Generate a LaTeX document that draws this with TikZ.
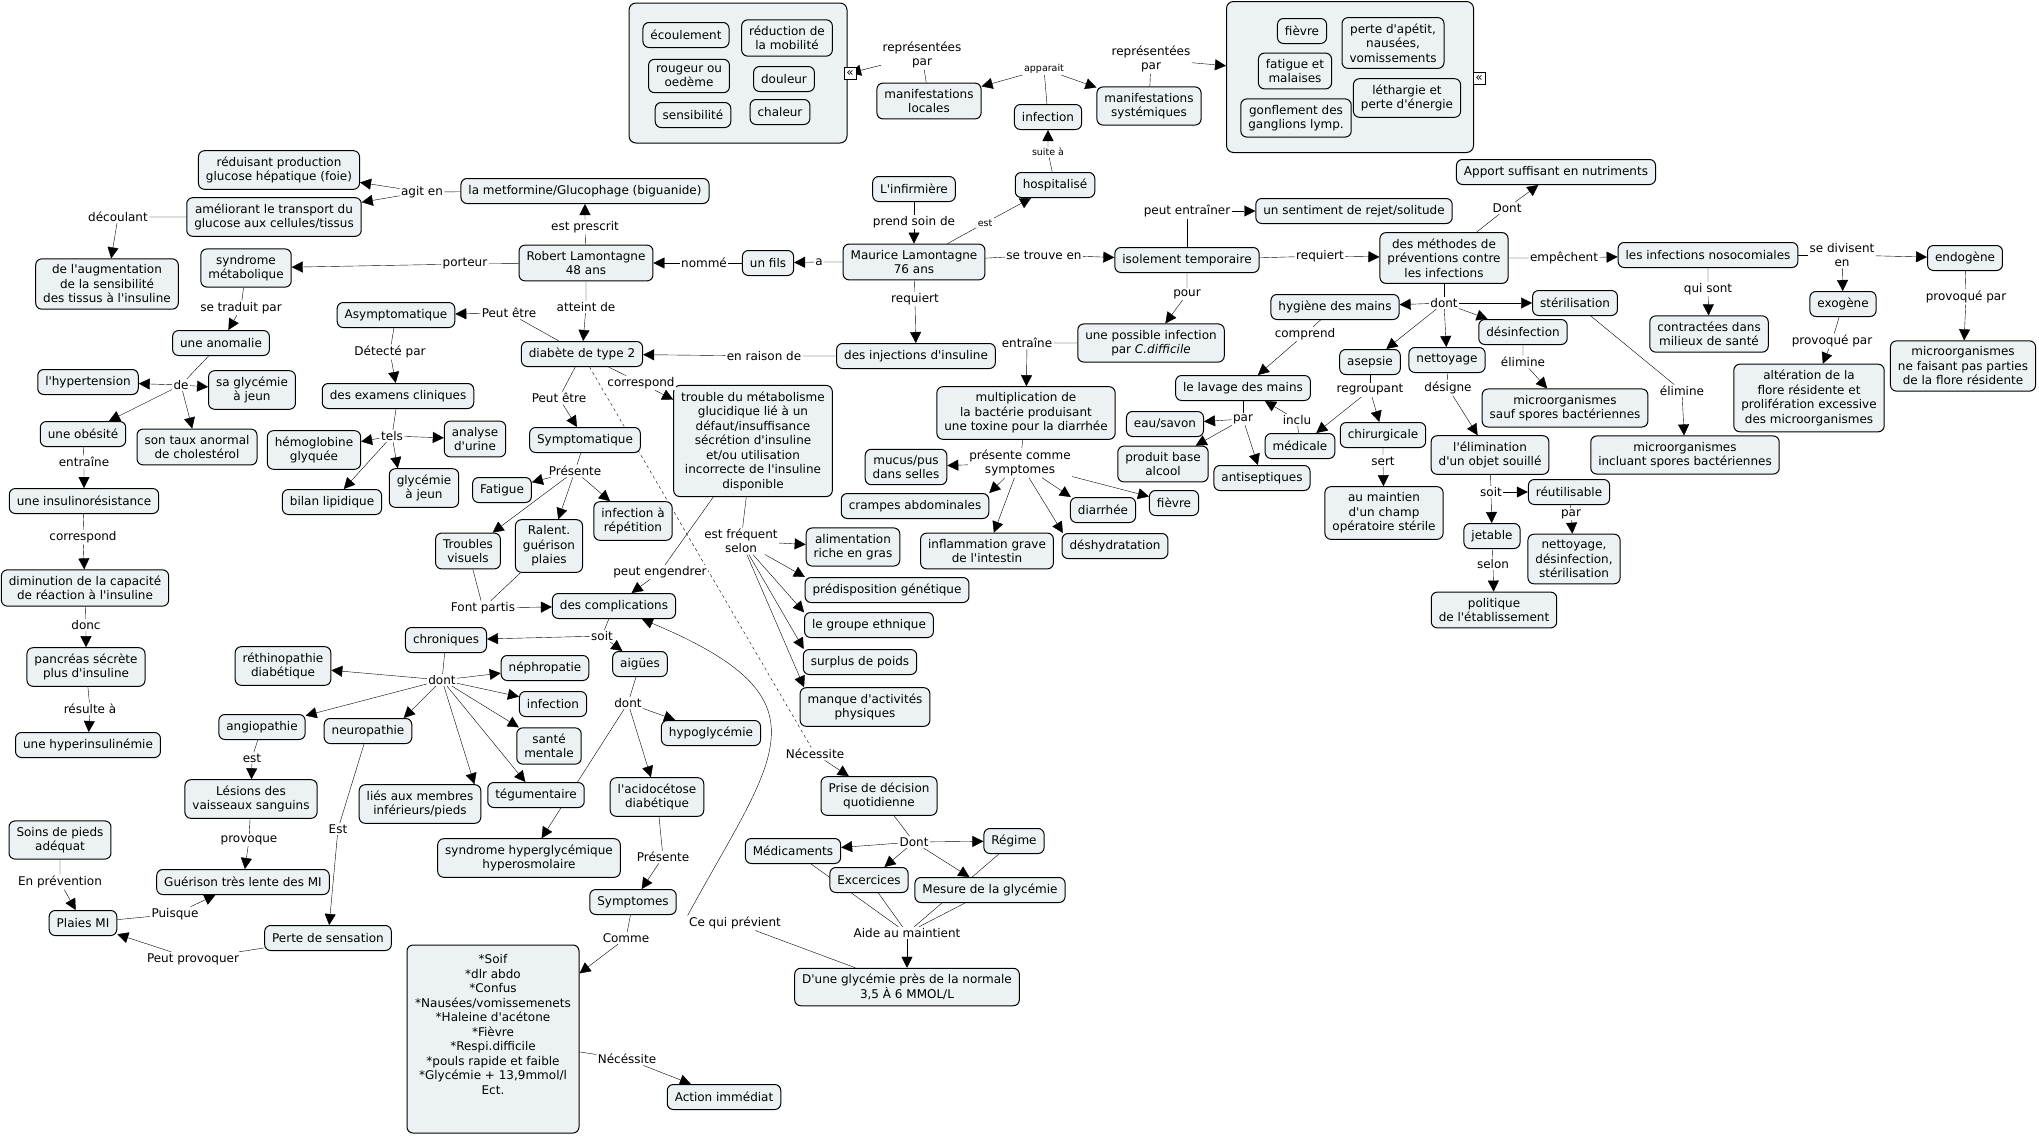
\documentclass[tikz,border=0pt]{standalone}
\usepackage{fontspec}
\setmainfont{DejaVu Sans}[Ligatures=TeXOff]
\usetikzlibrary{arrows.meta}
\definecolor{cfill}{RGB}{236,242,244}
\pgfdeclarelayer{links}
\pgfsetlayers{links,main}
\tikzstyle{concept}=[draw, rounded corners=6pt, fill=cfill, align=center, inner xsep=7.5pt, inner ysep=6pt, minimum height=25pt]
\tikzstyle{link}=[fill=white, align=center, inner sep=1pt]
\tikzstyle{smalllink}=[link, font=\fontsize{9.5}{11}\selectfont]
\tikzstyle{group}=[draw, rounded corners=7pt, fill=cfill]
\tikzstyle{expand}=[draw, fill=white, inner sep=0pt, minimum size=12pt, font=\fontsize{12}{12}\selectfont]

\begin{document}
\begin{tikzpicture}[x=1pt,y=-1pt,line width=1pt,>={Triangle[length=11pt,width=11pt]},font=\fontsize{12}{14.5}\selectfont]
\useasboundingbox (0,0) rectangle (2039,1135);

% manifestations (groupes)
\node [group, minimum width=218, minimum height=140] (grpL) at (738,73) {};
\node [concept] (ecoul) at (686,35) {écoulement};
\node [concept] (reduc) at (787,38) {réduction de\\la mobilité};
\node [concept] (rouge) at (689,76) {rougeur ou\\oedème};
\node [concept] (doul) at (784,79) {douleur};
\node [concept] (sensi) at (693,115) {sensibilité};
\node [concept] (chal) at (780,112) {chaleur};
\node [expand] (expL) at (850,73) {«};

\node [group, minimum width=247, minimum height=151] (grpR) at (1350,77) {};
\node [concept] (fiev1) at (1302,31) {fièvre};
\node [concept] (perteapp) at (1393,43) {perte d'apétit,\\nausées,\\vomissements};
\node [concept] (fatig) at (1295,71) {fatigue et\\malaises};
\node [concept] (leth) at (1407,98) {léthargie et\\perte d'énergie};
\node [concept] (gonfl) at (1296,118) {gonflement des\\ganglions lymp.};
\node [expand] (expR) at (1479,78) {«};

% patients
\node [concept] (locales) at (929,101) {manifestations\\locales};
\node [concept] (syst) at (1149,106) {manifestations\\systémiques};
\node [concept] (infec) at (1048,117) {infection};
\node [concept] (hosp) at (1055,185) {hospitalisé};
\node [concept] (infirm) at (914,189) {L'infirmière};
\node [concept] (maurice) at (914,262) {Maurice Lamontagne\\76 ans};
\node [concept] (fils) at (768,263) {un fils};
\node [concept] (robert) at (586,263) {Robert Lamontagne\\48 ans};
\node [concept] (metf) at (585,191) {la metformine/Glucophage (biguanide)};
\node [concept] (reduis) at (279,170) {réduisant production\\glucose hépatique (foie)};
\node [concept] (amel) at (274,217) {améliorant le transport du\\glucose aux cellules/tissus};
\node [concept] (augm) at (107,284) {de l'augmentation\\de la sensibilité\\des tissus à l'insuline};
\node [concept] (synd) at (246,268) {syndrome\\métabolique};
\node [concept] (anom) at (221,343) {une anomalie};
\node [concept] (asym) at (396,315) {Asymptomatique};
\node [concept] (hyper) at (88,382) {l'hypertension};
\node [concept] (glyc1) at (252,390) {sa glycémie\\à jeun};
\node [concept] (obes) at (83,434) {une obésité};
\node [concept] (chol) at (197,447) {son taux anormal\\de cholestérol};
\node [concept] (insres) at (84,501) {une insulinorésistance};
\node [concept] (dimin) at (85,588) {diminution de la capacité\\de réaction à l'insuline};
\node [concept] (pancr) at (86,667) {pancréas sécrète\\plus d'insuline};
\node [concept] (hyperins) at (88,745) {une hyperinsulinémie};
\node [concept] (exam) at (398,396) {des examens cliniques};
\node [concept] (hemo) at (314,450) {hémoglobine\\glyquée};
\node [concept] (urine) at (475,439) {analyse\\d'urine};
\node [concept] (bilan) at (332,502) {bilan lipidique};
\node [concept] (glyc2) at (424,488) {glycémie\\à jeun};

% diabete
\node [concept] (diab) at (582,354) {diabète de type 2};
\node [concept] (inject) at (916,356) {des injections d'insuline};
\node [concept] (sympto) at (585,440) {Symptomatique};
\node [concept] (trouble) at (753,441) {trouble du métabolisme\\glucidique lié à un\\défaut/insuffisance\\sécrétion d'insuline\\et/ou utilisation\\incorrecte de l'insuline\\disponible};
\node [concept] (fatigue) at (502,490) {Fatigue};
\node [concept] (infrep) at (633,521) {infection à\\répétition};
\node [concept] (ralent) at (549,546) {Ralent.\\guérison\\plaies};
\node [concept] (troubv) at (468,551) {Troubles\\visuels};
\node [concept] (alim) at (853,547) {alimentation\\riche en gras};
\node [concept] (predis) at (887,590) {prédisposition génétique};
\node [concept] (ethn) at (869,625) {le groupe ethnique};
\node [concept] (surpl) at (860,662) {surplus de poids};
\node [concept] (manque) at (865,707) {manque d'activités\\physiques};

% complications
\node [concept] (compl) at (614,606) {des complications};
\node [concept] (chron) at (446,640) {chroniques};
\node [concept] (aigu) at (640,664) {aigües};
\node [concept] (nephro) at (545,668) {néphropatie};
\node [concept] (rethi) at (283,666) {réthinopathie\\diabétique};
\node [concept] (infec3) at (553,704) {infection};
\node [concept] (hypog) at (711,733) {hypoglycémie};
\node [concept] (sante) at (549,746) {santé\\mentale};
\node [concept] (angio) at (262,727) {angiopathie};
\node [concept] (neuro) at (368,731) {neuropathie};
\node [concept] (lesion) at (251,799) {Lésions des\\vaisseaux sanguins};
\node [concept] (membres) at (420,804) {liés aux membres\\inférieurs/pieds};
\node [concept] (tegum) at (536,795) {tégumentaire};
\node [concept] (soins) at (60,840) {Soins de pieds\\adéquat};
\node [concept] (hhs) at (529,858) {syndrome hyperglycémique\\hyperosmolaire};
\node [concept] (guer) at (243,882) {Guérison très lente des MI};
\node [concept] (plaies) at (83,923) {Plaies MI};
\node [concept] (sensat) at (328,938) {Perte de sensation};
\node [concept, minimum width=172, minimum height=188] (bigsym) at (493,1039) {*Soif\\*dlr abdo\\*Confus\\*Nausées/vomissemenets\\*Haleine d'acétone\\*Fièvre\\*Respi.difficile\\*pouls rapide et faible\\*Glycémie + 13,9mmol/l\\Ect.\\\mbox{}\\\mbox{}};
\node [concept] (acido) at (657,797) {l'acidocétose\\diabétique};
\node [concept] (symptomes) at (633,902) {Symptomes};
\node [concept] (action) at (724,1097) {Action immédiat};
\node [concept] (prise) at (879,796) {Prise de décision\\quotidienne};
\node [concept] (medic) at (793,851) {Médicaments};
\node [concept] (regime) at (1014,841) {Régime};
\node [concept] (exerc) at (869,880) {Excercices};
\node [concept] (mesure) at (990,890) {Mesure de la glycémie};
\node [concept] (dune) at (907,987) {D'une glycémie près de la normale\\3,5 À 6 MMOL/L};

% isolement et prevention
\node [concept] (apport) at (1556,172) {Apport suffisant en nutriments};
\node [concept] (sentim) at (1354,211) {un sentiment de rejet/solitude};
\node [concept] (isol) at (1187,260) {isolement temporaire};
\node [concept] (methodes) at (1444,258) {des méthodes de\\préventions contre\\les infections};
\node [concept] (possible) at (1151,343) {une possible infection\\par \textit{C.difficile}};
\node [concept] (multip) at (1026,413) {multiplication de\\la bactérie produisant\\une toxine pour la diarrhée};
\node [concept] (mucus) at (906,467) {mucus/pus\\dans selles};
\node [concept] (crampes) at (915,506) {crampes abdominales};
\node [concept] (inflam) at (987,551) {inflammation grave\\de l'intestin};
\node [concept] (diarr) at (1103,510) {diarrhée};
\node [concept] (fiev2) at (1174,503) {fièvre};
\node [concept] (deshy) at (1115,546) {déshydratation};
\node [concept] (hygiene) at (1335,307) {hygiène des mains};
\node [concept] (lavage) at (1243,388) {le lavage des mains};
\node [concept] (eau) at (1165,424) {eau/savon};
\node [concept] (alcool) at (1163,464) {produit base\\alcool};
\node [concept] (antisep) at (1262,478) {antiseptiques};
\node [concept] (asepsie) at (1370,362) {asepsie};
\node [concept] (medicale) at (1300,446) {médicale};
\node [concept] (chirur) at (1383,435) {chirurgicale};
\node [concept] (maintien) at (1384,513) {au maintien\\d'un champ\\opératoire stérile};
\node [concept] (nettoy) at (1447,360) {nettoyage};
\node [concept] (elimin) at (1490,455) {l'élimination\\d'un objet souillé};
\node [concept] (reutil) at (1569,492) {réutilisable};
\node [concept] (jetable) at (1492,536) {jetable};
\node [concept] (nds) at (1574,559) {nettoyage,\\désinfection,\\stérilisation};
\node [concept] (polit) at (1494,610) {politique\\de l'établissement};
\node [concept] (desinf) at (1523,332) {désinfection};
\node [concept] (steril) at (1575,303) {stérilisation};
\node [concept] (saufsp) at (1565,408) {microorganismes\\sauf spores bactériennes};
\node [concept] (inclsp) at (1685,455) {microorganismes\\incluant spores bactériennes};
\node [concept] (nosoc) at (1708,255) {les infections nosocomiales};
\node [concept] (contr) at (1709,334) {contractées dans\\milieux de santé};
\node [concept] (endo) at (1965,258) {endogène};
\node [concept] (exo) at (1843,304) {exogène};
\node [concept] (nefais) at (1963,366) {microorganismes\\ne faisant pas parties\\de la flore résidente};
\node [concept] (alter) at (1809,398) {altération de la\\flore résidente et\\prolifération excessive\\des microorganismes};

% mots de liaison
\node [link] (lrepL) at (922,55) {représentées\\par};
\node [smalllink] (lapp) at (1044,69) {apparait};
\node [link] (lrepR) at (1151,59) {représentées\\par};
\node [smalllink] (lsuite) at (1048,152) {suite à};
\node [smalllink] (lest1) at (985,223) {est};
\node [link] (lsoin) at (914,222) {prend soin de};
\node [link] (la) at (819,262) {a};
\node [link] (lnomme) at (704,263) {nommé};
\node [link] (lpresc) at (585,227) {est prescrit};
\node [link] (lagit) at (422,192) {agit en};
\node [link] (ldecoul) at (118,217) {découlant};
\node [link] (lporteur) at (465,264) {porteur};
\node [link] (ltrad) at (241,308) {se traduit par};
\node [link] (lde) at (181,385) {de};
\node [link] (lentr1) at (84,462) {entraîne};
\node [link] (lcorr1) at (83,537) {correspond};
\node [link] (ldonc) at (86,625) {donc};
\node [link] (lresult) at (90,709) {résulte à};
\node [link] (latteint) at (586,307) {atteint de};
\node [link] (lreq1) at (915,299) {requiert};
\node [link] (lraison) at (764,356) {en raison de};
\node [link] (lpeut1) at (509,313) {Peut être};
\node [link] (ldetect) at (390,352) {Détecté par};
\node [link] (ltels) at (392,436) {tels};
\node [link] (lcorr2) at (641,383) {correspond};
\node [link] (lpeut2) at (559,398) {Peut être};
\node [link] (lpres1) at (575,471) {Présente};
\node [link] (lfont) at (483,608) {Font partis};
\node [link] (lengendr) at (660,572) {peut engendrer};
\node [link] (lfreq) at (741,541) {est fréquent\\selon};
\node [link] (lsoit1) at (602,636) {soit};
\node [link] (ldont3) at (442,680) {dont};
\node [link] (ldont4) at (628,703) {dont};
\node [link] (lnec) at (815,754) {Nécessite};
\node [link] (lest2) at (252,758) {est};
\node [link] (lprov) at (249,840) {provoque};
\node [link] (lEst) at (338,829) {Est};
\node [link] (lprev) at (60,882) {En prévention};
\node [link] (lpuisq) at (175,914) {Puisque};
\node [link] (lpeutprov) at (193,959) {Peut provoquer};
\node [link] (lpres2) at (663,857) {Présente};
\node [link] (lcomme) at (626,938) {Comme};
\node [link] (lneces) at (627,1059) {Nécéssite};
\node [link] (lcqp) at (735,923) {Ce qui prévient};
\node [link] (ldont5) at (914,842) {Dont};
\node [link] (laide) at (907,933) {Aide au maintient};
\node [link] (ltrouve) at (1044,255) {se trouve en};
\node [link] (lpeutent) at (1187,211) {peut entraîner};
\node [link] (lreq2) at (1320,256) {requiert};
\node [link] (lpour) at (1187,294) {pour};
\node [link] (lentr2) at (1027,343) {entraîne};
\node [link] (lpcs) at (1020,463) {présente comme\\symptomes};
\node [link] (ldont1) at (1507,208) {Dont};
\node [link] (lemp) at (1564,258) {empêchent};
\node [link] (ldiv) at (1842,255) {se divisent\\en};
\node [link] (lqui) at (1708,289) {qui sont};
\node [link] (lprovR) at (1966,297) {provoqué par};
\node [link] (lprovL) at (1832,341) {provoqué par};
\node [link] (ldont2) at (1444,303) {dont};
\node [link] (lcompr) at (1305,334) {comprend};
\node [link] (lpar1) at (1243,419) {par};
\node [link] (linclu) at (1297,420) {inclu};
\node [link] (lregr) at (1370,390) {regroupant};
\node [link] (lsert) at (1383,461) {sert};
\node [link] (ldesig) at (1448,388) {désigne};
\node [link] (lsoit2) at (1491,492) {soit};
\node [link] (lpar2) at (1571,514) {par};
\node [link] (lselon) at (1493,564) {selon};
\node [link] (lelim1) at (1523,362) {élimine};
\node [link] (lelim2) at (1682,391) {élimine};

\begin{pgfonlayer}{links}
\draw [->] (locales) -- (lrepL) -- (expL.center);
\draw (infec) -- (lapp);
\draw [->] (lapp) edge (locales) edge (syst);
\draw [->] (syst) -- (lrepR) -- (grpR);
\draw [->] (hosp) -- (lsuite) -- (infec);
\draw [->] (maurice) -- (lest1) -- (hosp);
\draw [->] (infirm) -- (lsoin) -- (maurice);
\draw [->] (maurice) -- (la) -- (fils);
\draw [->] (fils) -- (lnomme) -- (robert);
\draw [->] (robert) -- (lpresc) -- (metf);
\draw (metf) -- (lagit);
\draw [->] (lagit) edge (reduis) edge (amel);
\draw [->] (amel) -- (ldecoul) -- (augm);
\draw [->] (robert) -- (lporteur) -- (synd);
\draw [->] (synd) -- (ltrad) -- (anom);
\draw (anom) -- (lde);
\draw [->] (lde) edge (hyper) edge (glyc1) edge (obes) edge (chol);
\draw [->] (obes) -- (lentr1) -- (insres);
\draw [->] (insres) -- (lcorr1) -- (dimin);
\draw [->] (dimin) -- (ldonc) -- (pancr);
\draw [->] (pancr) -- (lresult) -- (hyperins);
\draw [->] (robert) -- (latteint) -- (diab);
\draw [->] (maurice) -- (lreq1) -- (inject);
\draw [->] (inject) -- (lraison) -- (diab);
\draw [->] (diab) -- (lpeut1) -- (asym);
\draw [->] (asym) -- (ldetect) -- (exam);
\draw (exam) -- (ltels);
\draw [->] (ltels) edge (hemo) edge (urine) edge (glyc2.143) edge (bilan);
\draw [->] (diab) -- (lcorr2) -- (trouble);
\draw [->] (diab) -- (lpeut2) -- (sympto);
\draw [dashed] (diab) -- (lnec);
\draw [->] (lnec) -- (prise);
\draw (sympto) -- (lpres1);
\draw [->] (lpres1) edge (fatigue) edge (infrep) edge (ralent) edge (troubv);
\draw (troubv) -- (lfont) (ralent) -- (lfont);
\draw [->] (lfont) -- (compl);
\draw [->] (trouble) -- (lengendr) -- (compl);
\draw (trouble) -- (lfreq);
\draw [->] (lfreq) edge (alim) edge (predis.171) edge (ethn.169) edge (surpl.167) edge (manque.162);
\draw (compl) -- (lsoit1);
\draw [->] (lsoit1) edge (chron) edge (aigu);
\draw (chron) -- (ldont3);
\draw [->] (ldont3) edge (rethi) edge (nephro) edge (infec3) edge (sante) edge (tegum) edge (membres.20) edge (neuro.20) edge (angio);
\draw (aigu) -- (ldont4);
\draw [->] (ldont4) edge (hypog) edge (acido) edge (hhs);
\draw [->] (angio) -- (lest2) -- (lesion);
\draw [->] (lesion) -- (lprov) -- (guer);
\draw [->] (neuro) -- (lEst) -- (sensat);
\draw [->] (soins) -- (lprev) -- (plaies);
\draw [->] (plaies) -- (lpuisq) -- (guer);
\draw [->] (sensat) -- (lpeutprov) -- (plaies);
\draw [->] (acido) -- (lpres2) -- (symptomes);
\draw [->] (symptomes) -- (lcomme) -- (bigsym);
\draw [->] (bigsym) -- (lneces) -- (action);
\draw (prise) -- (ldont5);
\draw [->] (ldont5) edge (medic) edge (regime) edge (exerc) edge (mesure);
\draw (medic) -- (laide) (exerc) -- (laide) (regime) -- (laide) (mesure) -- (laide);
\draw [->] (laide) -- (dune);
\draw (dune) -- (lcqp);
\draw [->] (lcqp.north west) .. controls (775,755) and (835,700) .. (compl.-25);
\draw [->] (maurice) -- (ltrouve) -- (isol);
\draw [->] (isol) -- (lpeutent) -- (sentim);
\draw [->] (isol) -- (lreq2) -- (methodes);
\draw [->] (isol) -- (lpour) -- (possible);
\draw [->] (possible) -- (lentr2) -- (multip);
\draw (multip) -- (lpcs);
\draw [->] (lpcs) edge (mucus) edge (crampes.north east) edge (inflam) edge (deshy.166) edge (diarr.158) edge (fiev2);
\draw [->] (methodes) -- (ldont1) -- (apport);
\draw [->] (methodes) -- (lemp) -- (nosoc);
\draw (nosoc) -- (ldiv);
\draw [->] (ldiv) edge (endo) edge (exo);
\draw [->] (nosoc) -- (lqui) -- (contr);
\draw [->] (endo) -- (lprovR) -- (nefais);
\draw [->] (exo) -- (lprovL) -- (alter);
\draw (methodes) -- (ldont2);
\draw [->] (ldont2) edge (hygiene) edge (steril) edge (desinf) edge (nettoy) edge (asepsie);
\draw [->] (hygiene) -- (lcompr) -- (lavage);
\draw (lavage) -- (lpar1);
\draw [->] (lpar1) edge (eau) edge (alcool) edge (antisep);
\draw [->] (medicale) -- (linclu) -- (lavage);
\draw (asepsie) -- (lregr);
\draw [->] (lregr) edge (medicale) edge (chirur);
\draw [->] (chirur) -- (lsert) -- (maintien);
\draw [->] (nettoy) -- (ldesig) -- (elimin);
\draw (elimin) -- (lsoit2);
\draw [->] (lsoit2) edge (reutil) edge (jetable);
\draw [->] (reutil) -- (lpar2) -- (nds);
\draw [->] (jetable) -- (lselon) -- (polit);
\draw [->] (desinf) -- (lelim1) -- (saufsp);
\draw [->] (steril) -- (lelim2) -- (inclsp);
\end{pgfonlayer}
\end{tikzpicture}
\end{document}
